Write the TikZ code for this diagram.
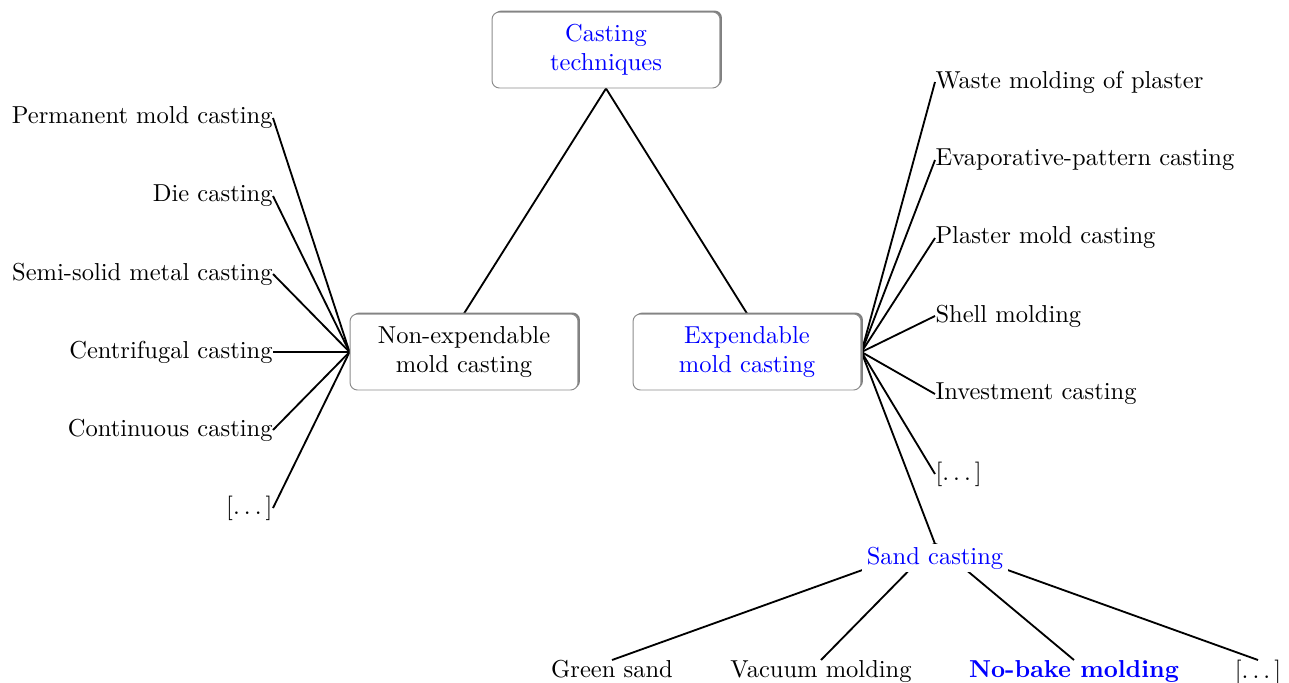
\documentclass[tikz,border=0pt]{standalone}
\usetikzlibrary{shadows,backgrounds}
% spaced ellipsis
\newcommand\spdots{.\kern\fontdimen3\font.\kern\fontdimen3\font.\kern\fontdimen3\font}
\begin{document}
\begin{tikzpicture}[x=0.408pt,y=-0.408pt,
  catbox/.style={draw=gray!90, line width=0.4pt, rounded corners=3pt, fill=white,
    align=center, minimum width=93pt, minimum height=31pt, inner sep=2pt,
    drop shadow={fill=gray, opacity=1, shadow xshift=0.8pt, shadow yshift=0.6pt}},
  leafl/.style={anchor=east, inner sep=0pt},
  leafr/.style={anchor=west, inner sep=0pt},
  leafb/.style={anchor=north, inner sep=0pt},
  link/.style={line width=0.75pt},
  hl/.style={text=blue}]
\useasboundingbox (0,0) rectangle (1289,682);

% main categories
\node[catbox, hl] (root) at (606,50) {Casting\\techniques};
\node[catbox] (nonexp) at (464,352) {Non-expendable\\mold casting};
\node[catbox, hl] (exp) at (747,352) {Expendable\\mold casting};

% non-expendable methods
\node[leafl] (perm) at (273,118) {Permanent mold casting};
\node[leafl] (die)  at (273,196) {Die casting};
\node[leafl] (semi) at (273,274) {Semi-solid metal casting};
\node[leafl] (cent) at (273,352) {Centrifugal casting};
\node[leafl] (cont) at (273,430) {Continuous casting};
\node[leafl] (nmore) at (273,508) {[\spdots]};

% expendable methods
\node[leafr] (waste) at (935,82)  {Waste molding of plaster};
\node[leafr] (evap)  at (935,160) {Evaporative-pattern casting};
\node[leafr] (plas)  at (935,238) {Plaster mold casting};
\node[leafr] (shell) at (935,316) {Shell molding};
\node[leafr] (inv)   at (935,394) {Investment casting};
\node[leafr] (emore) at (935,474) {[\spdots]};
\node[hl, fill=white, inner xsep=2pt, inner ysep=1pt] (sand) at (935,558) {Sand casting};

% sand casting variants
\node[leafb] (green) at (612,660)  {Green sand};
\node[leafb] (vac)   at (821,660)  {Vacuum molding};
\node[leafb, hl, font=\bfseries] (nobake) at (1074,660) {No-bake molding};
\node[leafb] (smore) at (1258,660) {[\spdots]};

\begin{scope}[on background layer]
  \draw[link] (root.south) -- (nonexp.north);
  \draw[link] (root.south) -- (exp.north);
  \foreach \n in {perm,die,semi,cent,cont,nmore}
    \draw[link] (\n.east) -- (nonexp.west);
  \foreach \n in {waste,evap,plas,shell,inv,emore}
    \draw[link] (exp.east) -- (\n.west);
  \draw[link] (exp.east) -- (sand.north);
  \foreach \n in {green,vac,nobake,smore}
    \draw[link] (sand.north) -- (\n.north);
\end{scope}
\end{tikzpicture}
\end{document}
